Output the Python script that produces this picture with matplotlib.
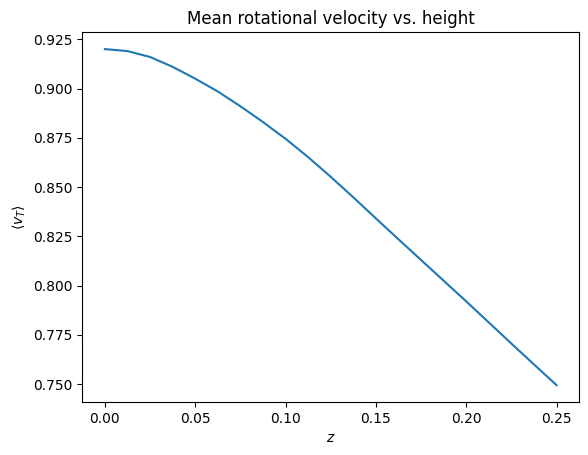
import matplotlib
matplotlib.use("Agg")
import matplotlib.pyplot as plt

z = [0.0, 0.0125, 0.025, 0.0375, 0.05, 0.0625, 0.075, 0.0875, 0.1, 0.1125,
     0.125, 0.1375, 0.15, 0.1625, 0.175, 0.1875, 0.2, 0.2125, 0.225, 0.2375, 0.25]
vT = [0.920, 0.919, 0.916, 0.911, 0.905, 0.8985, 0.891, 0.883, 0.8745, 0.8652,
      0.8552, 0.8448, 0.8341, 0.8235, 0.813, 0.8025, 0.792, 0.7813, 0.7706, 0.760, 0.7495]

fig, ax = plt.subplots(figsize=(5.88, 4.55), dpi=100)
ax.plot(z, vT)
ax.set_title("Mean rotational velocity vs. height")
ax.set_xlabel(r"$z$")
ax.set_ylabel(r"$\langle v_T \rangle$")
fig.subplots_adjust(left=0.140, right=0.985, top=0.929, bottom=0.1165)
fig.savefig("out.png", dpi=100)
